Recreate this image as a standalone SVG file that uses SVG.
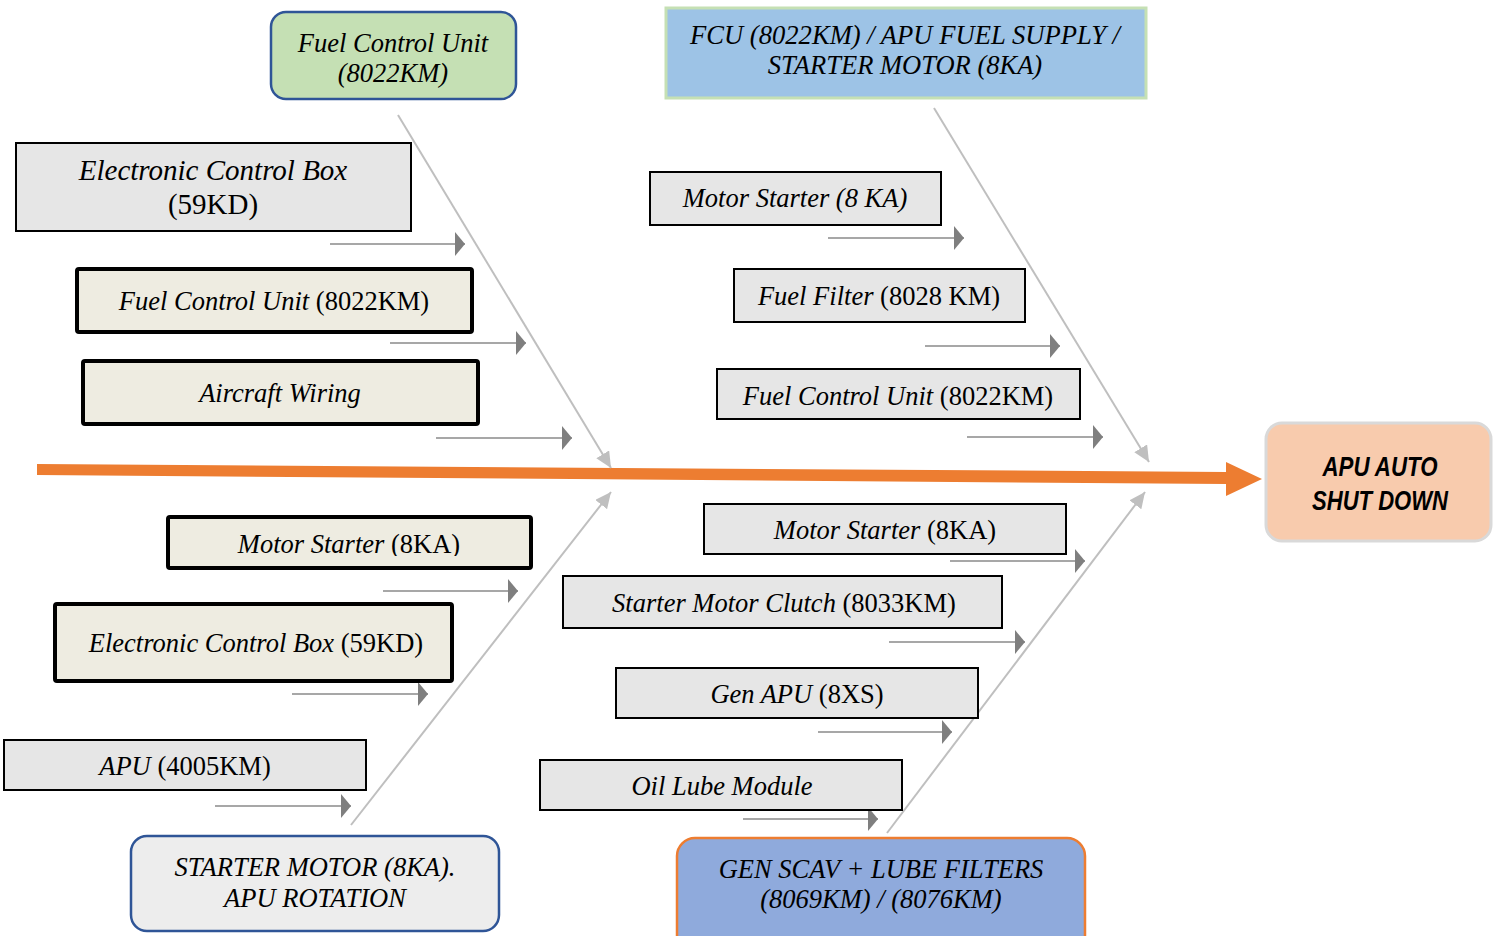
<svg xmlns="http://www.w3.org/2000/svg" width="1494" height="936" viewBox="0 0 1494 936">
<style>
text{font-family:"Liberation Serif","Times New Roman",serif;font-size:26.5px;fill:#000;text-anchor:middle}
.it{font-style:italic}
.n{font-style:normal}
.gray{fill:#e6e6e6;stroke:#000;stroke-width:2}
.beige{fill:#eeece1;stroke:#000;stroke-width:4}
.bone{stroke:#bfbfbf;stroke-width:2;fill:none}
.sm{stroke:#8a8a8a;stroke-width:1.6;fill:none}
.big{font-family:"Liberation Sans",Arial,sans-serif;font-weight:bold;font-style:italic;font-size:28px}
</style>
<defs>
<marker id="ah" markerUnits="userSpaceOnUse" markerWidth="10" markerHeight="24" refX="10" refY="12" orient="auto">
<path d="M0,0 L10,12 L0,24 Z" fill="#7f7f7f"/>
</marker>
<marker id="dh" markerUnits="userSpaceOnUse" markerWidth="16" markerHeight="15" refX="16" refY="7.5" orient="auto">
<path d="M0,0 L16,7.5 L0,15 Z" fill="#bfbfbf"/>
</marker>
<clipPath id="clipMS"><rect x="166" y="515" width="366" height="41"/></clipPath>
</defs>

<g id="connectors">
<polygon points="37,464 1226,472 1226,462 1262,479 1226,496 1226,484 37,475" fill="#ed7d31"/>
<line class="bone" x1="398" y1="115" x2="611" y2="468" marker-end="url(#dh)"/>
<line class="bone" x1="351" y1="825" x2="611" y2="492" marker-end="url(#dh)"/>
<line class="bone" x1="934" y1="108" x2="1149" y2="462" marker-end="url(#dh)"/>
<line class="bone" x1="887" y1="833" x2="1145" y2="492" marker-end="url(#dh)"/>
<line class="sm" x1="330" y1="244" x2="465" y2="244" marker-end="url(#ah)"/>
<line class="sm" x1="390" y1="343" x2="526" y2="343" marker-end="url(#ah)"/>
<line class="sm" x1="436" y1="438" x2="572" y2="438" marker-end="url(#ah)"/>
<line class="sm" x1="383" y1="591" x2="518" y2="591" marker-end="url(#ah)"/>
<line class="sm" x1="292" y1="694" x2="428" y2="694" marker-end="url(#ah)"/>
<line class="sm" x1="215" y1="806" x2="351" y2="806" marker-end="url(#ah)"/>
<line class="sm" x1="828" y1="238" x2="964" y2="238" marker-end="url(#ah)"/>
<line class="sm" x1="925" y1="346" x2="1060" y2="346" marker-end="url(#ah)"/>
<line class="sm" x1="967" y1="437" x2="1103" y2="437" marker-end="url(#ah)"/>
<line class="sm" x1="950" y1="561" x2="1085" y2="561" marker-end="url(#ah)"/>
<line class="sm" x1="889" y1="642" x2="1025" y2="642" marker-end="url(#ah)"/>
<line class="sm" x1="818" y1="732" x2="952" y2="732" marker-end="url(#ah)"/>
<line class="sm" x1="743" y1="819" x2="878" y2="819" marker-end="url(#ah)"/>
</g>

<g id="fcu-green">
<rect x="271" y="12" width="245" height="87" rx="15" fill="#c5e0b4" stroke="#2f5597" stroke-width="2.5"/>
<text class="it" x="393" y="52">Fuel Control Unit</text>
<text class="it" x="393" y="82">(8022KM)</text>
</g>

<g id="fcu-blue">
<rect x="666" y="8" width="480" height="90" fill="#9dc3e6" stroke="#c5e0b4" stroke-width="3"/>
<text class="it" x="905" y="44" textLength="430" lengthAdjust="spacingAndGlyphs">FCU (8022KM) / APU FUEL SUPPLY /</text>
<text class="it" x="905" y="74">STARTER MOTOR (8KA)</text>
</g>

<g id="ecb-upper">
<rect class="gray" x="16" y="143" width="395" height="88"/>
<text class="it" x="213" y="180" style="font-size:29px">Electronic Control Box</text>
<text x="213" y="214" style="font-size:29px">(59KD)</text>
</g>

<g id="fcu-left">
<rect class="beige" x="77" y="269" width="395" height="63" rx="2"/>
<text x="274" y="310"><tspan class="it">Fuel Control Unit</tspan> (8022KM)</text>
</g>

<g id="aircraft-wiring">
<rect class="beige" x="83" y="361" width="395" height="63" rx="2"/>
<text class="it" x="280" y="402">Aircraft Wiring</text>
</g>

<g id="motor-starter-left">
<rect class="beige" x="168" y="517" width="363" height="51" rx="2"/>
<text x="349" y="553" clip-path="url(#clipMS)"><tspan class="it">Motor Starter</tspan> (8KA)</text>
</g>

<g id="ecb-lower">
<rect class="beige" x="55" y="604" width="397" height="77" rx="2"/>
<text x="256" y="652"><tspan class="it">Electronic Control Box</tspan> (59KD)</text>
</g>

<g id="apu-4005">
<rect class="gray" x="4" y="740" width="362" height="50"/>
<text x="185" y="775"><tspan class="it">APU</tspan> (4005KM)</text>
</g>

<g id="starter-motor-rotation">
<rect x="131" y="836" width="368" height="95" rx="16" fill="#ededed" stroke="#2f5597" stroke-width="2.5"/>
<text class="it" x="315" y="876">STARTER MOTOR (8KA).</text>
<text class="it" x="315" y="907">APU ROTATION</text>
</g>

<g id="motor-starter-8ka-right">
<rect class="gray" x="650" y="172" width="291" height="53"/>
<text class="it" x="795" y="207">Motor Starter (8 KA)</text>
</g>

<g id="fuel-filter">
<rect class="gray" x="734" y="269" width="291" height="53"/>
<text x="879" y="305"><tspan class="it">Fuel Filter</tspan> (8028 KM)</text>
</g>

<g id="fcu-right">
<rect class="gray" x="717" y="369" width="363" height="50"/>
<text x="898" y="405"><tspan class="it">Fuel Control Unit</tspan> (8022KM)</text>
</g>

<g id="motor-starter-lower-right">
<rect class="gray" x="704" y="504" width="362" height="50"/>
<text x="885" y="539"><tspan class="it">Motor Starter</tspan> (8KA)</text>
</g>

<g id="starter-motor-clutch">
<rect class="gray" x="563" y="576" width="439" height="52"/>
<text x="784" y="612"><tspan class="it">Starter Motor Clutch</tspan> (8033KM)</text>
</g>

<g id="gen-apu">
<rect class="gray" x="616" y="668" width="362" height="50"/>
<text x="797" y="703"><tspan class="it">Gen APU</tspan> (8XS)</text>
</g>

<g id="oil-lube">
<rect class="gray" x="540" y="760" width="362" height="50"/>
<text class="it" x="722" y="795">Oil Lube Module</text>
</g>

<g id="gen-scav">
<rect x="677" y="838" width="408" height="115" rx="18" fill="#8faadc" stroke="#ed7d31" stroke-width="2.5"/>
<text class="it" x="881" y="878">GEN SCAV + LUBE FILTERS</text>
<text class="it" x="881" y="908">(8069KM) / (8076KM)</text>
</g>

<g id="apu-auto-shutdown">
<rect x="1266" y="423" width="225" height="118" rx="16" fill="#f8cbad" stroke="#d9d9d9" stroke-width="3"/>
<text class="big" x="1380" y="476" textLength="115" lengthAdjust="spacingAndGlyphs">APU AUTO</text>
<text class="big" x="1380" y="510" textLength="136" lengthAdjust="spacingAndGlyphs">SHUT DOWN</text>
</g>
</svg>
